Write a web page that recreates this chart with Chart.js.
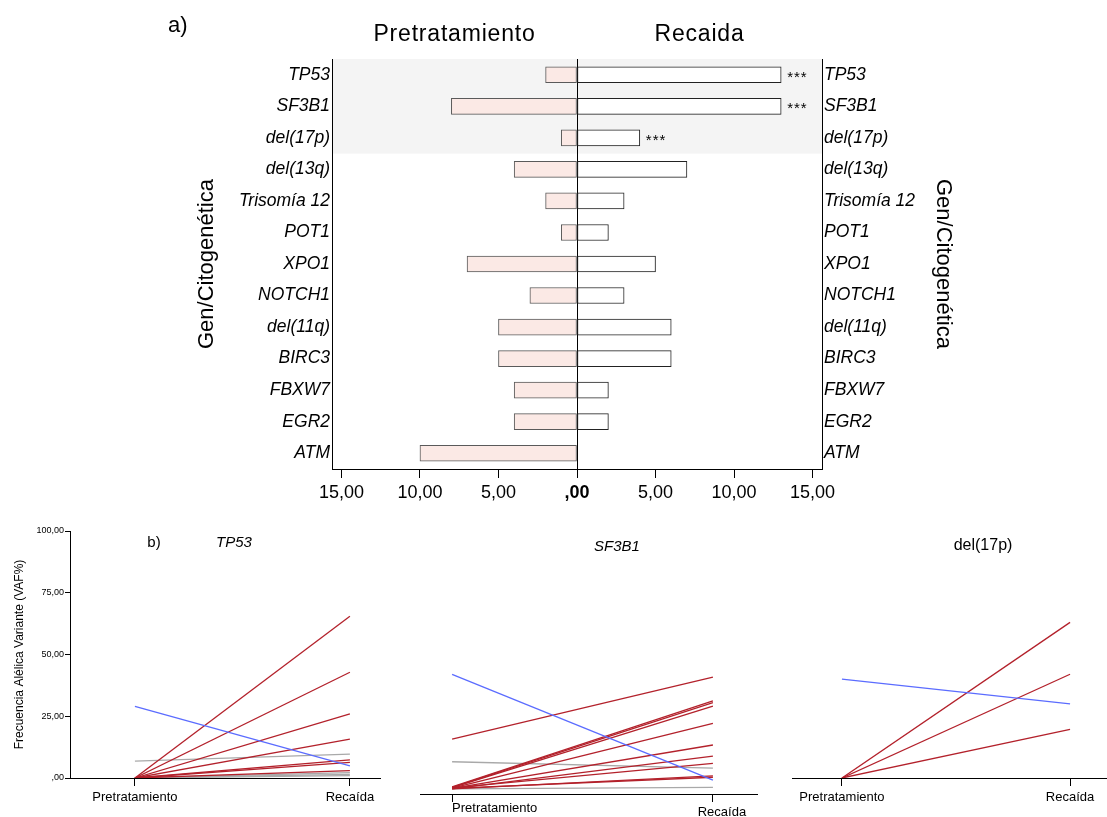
<!DOCTYPE html>
<html><head><meta charset="utf-8">
<script src="https://cdn.jsdelivr.net/npm/chart.js@4/dist/chart.umd.min.js"></script>
<style>
html,body{margin:0;padding:0;background:#fff;width:1107px;height:817px;overflow:hidden;position:relative;}
.c{position:absolute;}
</style></head><body>
<div class="c" style="left:0;top:0;width:1107px;height:510px"><canvas id="topChart"></canvas></div>
<div class="c" style="left:0;top:500px;width:385px;height:317px"><canvas id="b1"></canvas></div>
<div class="c" style="left:390px;top:500px;width:380px;height:317px"><canvas id="b2"></canvas></div>
<div class="c" style="left:770px;top:500px;width:337px;height:317px"><canvas id="b3"></canvas></div>
<script>
// ---------- Panel a) data ----------
const genes = ['TP53','SF3B1','del(17p)','del(13q)','Trisomía 12','POT1','XPO1','NOTCH1','del(11q)','BIRC3','FBXW7','EGR2','ATM'];
const pretratamiento = [2, 8, 1, 4, 2, 1, 7, 3, 5, 5, 4, 4, 10];
const recaida        = [13, 13, 4, 7, 3, 2, 5, 3, 6, 6, 2, 2, 0];
const significance   = ['***','***','***','','','','','','','','','',''];
const freqTicks = [-15, -10, -5, 0, 5, 10, 15];
const panelTitles = ['Pretratamiento', 'Recaida'];
const axisTitle = 'Gen/Citogenética';
const highlightRows = 3;

// ---------- Panel b) data ----------
const phases = ['Pretratamiento', 'Recaída'];
const vafTicks = [0, 25, 50, 75, 100];
const vafTitle = 'Frecuencia Alélica Variante (VAF%)';
const tp53Pre   = [0, 0, 0, 0, 0, 0, 0, 6.8, 0, 0, 0, 29];
const tp53Rec   = [65.5, 42.8, 26, 15.7, 7.3, 6.3, 3.0, 9.7, 2.2, 1.5, 1.0, 4.9];
const tp53Trend = ['up','up','up','up','up','up','up','flat','flat','flat','flat','down'];
const sf3b1Pre   = [19.3, 0.8, 0.6, 0.5, 0.3, 0.2, 0, 0.4, 0, 0.2, 10.5, 0, 44.4];
const sf3b1Rec   = [43.3, 34.1, 33.4, 32.1, 25.4, 17.0, 12.7, 9.9, 5.0, 4.5, 8.0, 0.6, 3.4];
const sf3b1Trend = ['up','up','up','up','up','up','up','up','up','up','flat','flat','down'];
const del17pPre   = [0, 0, 0, 40];
const del17pRec   = [63, 42, 19.7, 30];
const del17pTrend = ['up','up','up','down'];

const FONT = '"Liberation Sans", Arial, sans-serif';
Chart.defaults.font.family = FONT;
Chart.defaults.color = '#000';

const fmt = v => v === 0 ? ',00' : v.toFixed(2).replace('.', ',');

// ---------- Panel a) ----------
const bandPlugin = {
  id: 'band',
  beforeDraw(chart) {
    const {ctx, chartArea: a, scales: {y}} = chart;
    const step = y.getPixelForValue(1) - y.getPixelForValue(0);
    const top = y.getPixelForValue(0) - step / 2;
    const bottom = y.getPixelForValue(highlightRows - 1) + step / 2;
    ctx.save();
    ctx.fillStyle = '#f4f4f4';
    ctx.fillRect(a.left, top, a.right - a.left, bottom - top);
    ctx.restore();
  }
};
const topText = {
  id: 'topText',
  afterDraw(chart) {
    const {ctx, scales: {x, y}} = chart;
    ctx.save();
    ctx.fillStyle = '#000';
    ctx.textBaseline = 'alphabetic';
    ctx.font = '22px ' + FONT;
    ctx.textAlign = 'left';
    ctx.fillText('a)', 168, 32);
    ctx.font = '23px ' + FONT;
    ctx.letterSpacing = '0.8px';
    ctx.textAlign = 'center';
    ctx.fillText(panelTitles[0], x.getPixelForValue(-7.8), 41);
    ctx.fillText(panelTitles[1], x.getPixelForValue(7.8), 41);
    ctx.font = '15px ' + FONT;
    ctx.letterSpacing = '1px';
    ctx.textAlign = 'left';
    significance.forEach((s, i) => {
      if (!s) return;
      ctx.fillText(s, x.getPixelForValue(recaida[i]) + 6, y.getPixelForValue(i) + 7);
    });
    ctx.restore();
  }
};

const catTicks = {font: {size: 17.5, style: 'italic'}, color: '#000', padding: 2, autoSkip: false};
new Chart(document.getElementById('topChart'), {
  type: 'bar',
  data: {
    labels: genes,
    datasets: [
      {label: panelTitles[0], data: pretratamiento.map(v => -v), backgroundColor: '#fbe9e5', borderColor: '#5a5a5a', borderWidth: 1, barThickness: 16, borderSkipped: false},
      {label: panelTitles[1], data: recaida, backgroundColor: '#ffffff', borderColor: '#222', borderWidth: 1, barThickness: 16, borderSkipped: false}
    ]
  },
  options: {
    indexAxis: 'y', responsive: true, maintainAspectRatio: false, animation: false,
    layout: {padding: {left: 182, right: 145, top: 59, bottom: 1}},
    plugins: {legend: {display: false}, tooltip: {enabled: false}},
    scales: {
      x: {
        type: 'linear', min: -15.6, max: 15.6, stacked: true,
        afterBuildTicks: s => { s.ticks = freqTicks.map(v => ({value: v})); },
        ticks: {callback: v => fmt(Math.abs(v)), font: c => ({size: 18, weight: (c.tick && c.tick.value === 0) ? 'bold' : 'normal'}), color: '#000', padding: 4, maxRotation: 0},
        grid: {color: c => (c.tick && c.tick.value === 0) ? '#000' : 'rgba(0,0,0,0)', tickColor: '#000', tickLength: 9, lineWidth: 1},
        border: {display: true, color: '#000'},
        afterFit: s => { s.height = 40; }
      },
      y: {
        position: 'left', stacked: true, offset: true,
        ticks: catTicks,
        grid: {display: false, drawTicks: false},
        border: {display: true, color: '#000'},
        title: {display: true, text: axisTitle, font: {size: 22}, color: '#000', padding: {top: 12, bottom: 0}},
        afterFit: s => { s.width = 150; }
      },
      y2: {
        type: 'category', labels: genes, position: 'right', offset: true,
        ticks: catTicks,
        grid: {display: false, drawTicks: false},
        border: {display: true, color: '#000'},
        title: {display: true, text: axisTitle, font: {size: 22}, color: '#000', padding: {top: 6, bottom: 0}},
        afterFit: s => { s.width = 140; }
      }
    }
  },
  plugins: [bandPlugin, topText]
});

// ---------- Panel b) ----------
const trendColors = {up: '#b3212b', flat: '#a9a9a9', down: '#5b6cff'};
const trendOrder = {up: 1, flat: 2, down: 0};

function slope(id, pre, rec, trend, cfg) {
  const datasets = pre.map((p, i) => ({
    data: [{x: 0, y: p}, {x: 1, y: rec[i]}],
    borderColor: trendColors[trend[i]], borderWidth: 1.3,
    pointRadius: 0, fill: false, tension: 0, order: trendOrder[trend[i]]
  }));
  const textPlugin = {
    id: 'txt' + id,
    afterDraw(chart) {
      const {ctx, scales: {x}} = chart;
      ctx.save();
      ctx.fillStyle = '#000';
      ctx.textBaseline = 'middle';
      cfg.texts.forEach(t => {
        ctx.font = (t.italic ? 'italic ' : '') + t.size + 'px ' + FONT;
        ctx.textAlign = t.align || 'center';
        const px = t.v !== undefined ? x.getPixelForValue(t.v) + (t.dx || 0) : t.x;
        ctx.fillText(t.text, px, t.y);
      });
      ctx.restore();
    }
  };
  return new Chart(document.getElementById(id), {
    type: 'line',
    data: {datasets},
    options: {
      responsive: true, maintainAspectRatio: false, animation: false,
      layout: {padding: cfg.padding},
      plugins: {legend: {display: false}, tooltip: {enabled: false}},
      scales: {
        x: {
          type: 'linear', min: cfg.xmin, max: cfg.xmax,
          afterBuildTicks: s => { s.ticks = [0, 1].map(v => ({value: v})); },
          ticks: {display: cfg.showX, callback: v => phases[v], font: {size: 13}, color: '#000', padding: 4, maxRotation: 0, autoSkip: false},
          grid: {drawOnChartArea: false, color: '#000', tickLength: 8},
          border: {display: true, color: '#000'},
          afterFit: s => { s.height = cfg.xh; }
        },
        y: {
          display: cfg.showY, min: cfg.ymin, max: 100,
          afterBuildTicks: s => { s.ticks = vafTicks.map(v => ({value: v})); },
          ticks: {callback: v => fmt(v), font: {size: 9}, color: '#000', padding: 1},
          grid: {drawOnChartArea: false, color: '#000', tickLength: 5},
          border: {display: true, color: '#000'},
          title: {display: cfg.showY, text: vafTitle, font: {size: 12}, color: '#000', padding: {top: 12, bottom: 0}},
          afterFit: s => { if (cfg.showY) s.width = 70; }
        }
      }
    },
    plugins: [textPlugin]
  });
}

slope('b1', tp53Pre, tp53Rec, tp53Trend, {
  padding: {left: 0, right: 5, top: 31, bottom: 0}, xmin: -0.302, xmax: 1.14, ymin: 0, xh: 39,
  showX: true, showY: true,
  texts: [{text: 'b)', x: 154, y: 43, size: 15}, {text: 'TP53', x: 234, y: 43, size: 15, italic: true}]
});
slope('b2', sf3b1Pre, sf3b1Rec, sf3b1Trend, {
  padding: {left: 30, right: 13, top: 31, bottom: 0}, xmin: -0.123, xmax: 1.169, ymin: -2, xh: 23,
  showX: false, showY: false,
  texts: [{text: 'SF3B1', x: 227, y: 47, size: 15, italic: true},
          {text: phases[0], v: 0, dx: 0, y: 308, size: 13, align: 'left'},
          {text: phases[1], v: 1, dx: 9, y: 312, size: 13, align: 'center'}]
});
slope('b3', del17pPre, del17pRec, del17pTrend, {
  padding: {left: 22, right: 0, top: 31, bottom: 0}, xmin: -0.219, xmax: 1.162, ymin: 0, xh: 39,
  showX: true, showY: false,
  texts: [{text: 'del(17p)', x: 213, y: 46, size: 16}]
});
</script>
</body></html>
